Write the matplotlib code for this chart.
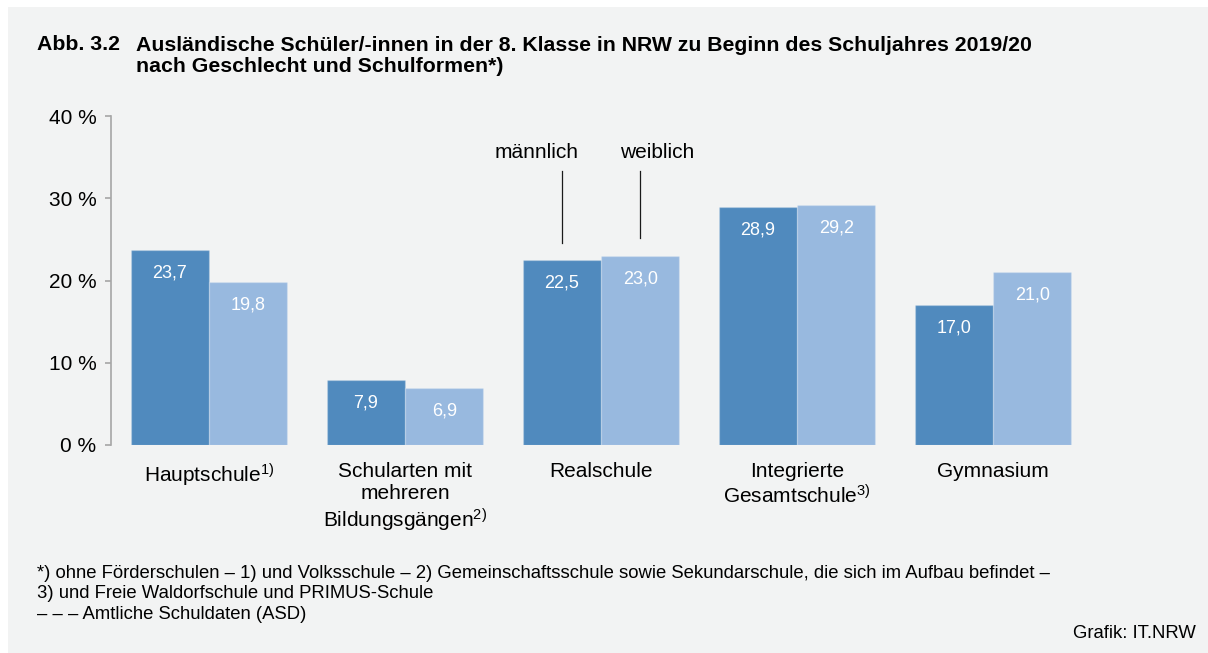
import matplotlib
matplotlib.use("Agg")
import matplotlib.pyplot as plt
from matplotlib.patches import Rectangle
import numpy as np

plt.rcParams['font.family'] = ['Liberation Sans', 'DejaVu Sans']
plt.rcParams['mathtext.fontset'] = 'custom'
plt.rcParams['mathtext.rm'] = 'Liberation Sans'
plt.rcParams['mathtext.default'] = 'regular'

# ---- data ----
categories = ['Hauptschule$^{1)}$',
              'Schularten mit\nmehreren\nBildungsgängen$^{2)}$',
              'Realschule',
              'Integrierte\nGesamtschule$^{3)}$',
              'Gymnasium']
maennlich = [23.7, 7.9, 22.5, 28.9, 17.0]
weiblich = [19.8, 6.9, 23.0, 29.2, 21.0]
yticks = [0, 10, 20, 30, 40]
ytick_labels = ['0 %', '10 %', '20 %', '30 %', '40 %']

title_num = 'Abb. 3.2'
title_text = ('Ausländische Schüler/-innen in der 8. Klasse in NRW zu Beginn des Schuljahres 2019/20\n'
              'nach Geschlecht und Schulformen*)')
footnote = ('*) ohne Förderschulen – 1) und Volksschule – 2) Gemeinschaftsschule sowie Sekundarschule, die sich im Aufbau befindet –\n'
            '3) und Freie Waldorfschule und PRIMUS-Schule\n'
            '– – – Amtliche Schuldaten (ASD)')
credit = 'Grafik: IT.NRW'

c_m = '#508abe'
c_w = '#98b9df'
bg = '#f2f3f3'

W, H = 1208, 653
fig = plt.figure(figsize=(W / 100, H / 100), dpi=100)
fig.patch.set_facecolor('white')
fig.patches.append(Rectangle((8 / W, 0), 1 - 8 / W, 1 - 7 / H, transform=fig.transFigure,
                             facecolor=bg, edgecolor='none', zorder=-10))

ax = fig.add_axes([111 / W, 1 - 445 / H, 980 / W, 329 / H])
ax.set_facecolor('none')

x = np.arange(len(categories))
bw = 0.4
ax.bar(x - bw / 2, maennlich, bw, color=c_m, edgecolor=(1, 1, 1, 0.2), linewidth=1.0)
ax.bar(x + bw / 2, weiblich, bw, color=c_w, edgecolor=(1, 1, 1, 0.2), linewidth=1.0)

ax.set_xlim(-0.5, len(categories) - 0.5)
ax.set_ylim(0, 40)
ax.set_yticks(yticks)
ax.set_yticklabels(ytick_labels, fontsize=15)
ax.set_xticks(x)
ax.set_xticklabels(categories, fontsize=15, linespacing=1.2, va='top')
ax.tick_params(axis='x', length=0, pad=12)
ax.tick_params(axis='y', length=4.5, width=1.2, color='#a6a6a6', pad=6)
for s in ['top', 'right', 'bottom']:
    ax.spines[s].set_visible(False)
ax.spines['left'].set_color('#a6a6a6')
ax.spines['left'].set_linewidth(1.2)

def fmt(v):
    return f'{v:.1f}'.replace('.', ',')

for xi, v in zip(x - bw / 2, maennlich):
    ax.annotate(fmt(v), (xi, v), xytext=(0, -16.5), textcoords='offset points',
                ha='center', va='center', color='white', fontsize=13)
for xi, v in zip(x + bw / 2, weiblich):
    ax.annotate(fmt(v), (xi, v), xytext=(0, -16.5), textcoords='offset points',
                ha='center', va='center', color='white', fontsize=13)

# legend-like annotation on Realschule
ri = 2
ax.plot([ri - bw / 2, ri - bw / 2], [maennlich[ri] + 2.1, 33.3], color='#1a1a1a', lw=0.9)
ax.plot([ri + bw / 2, ri + bw / 2], [weiblich[ri] + 2.2, 33.3], color='#1a1a1a', lw=0.9)
ax.text(ri - bw / 2 - 0.13, 35.6, 'männlich', ha='center', va='center', fontsize=15)
ax.text(ri + bw / 2 + 0.086, 35.6, 'weiblich', ha='center', va='center', fontsize=15)

# titles and notes
fig.text(37 / W, 1 - 44 / H, title_num, ha='left', va='center', fontsize=15.3, fontweight='bold')
fig.text(136 / W, 1 - 56 / H, title_text, ha='left', va='center', fontsize=15.3,
         fontweight='bold', linespacing=1.15)
fig.text(37 / W, 1 - 594 / H, footnote, ha='left', va='center', fontsize=13.3, linespacing=1.28)
fig.text(1196 / W, 1 - 634 / H, credit, ha='right', va='center', fontsize=13.3)

fig.savefig('out.png', dpi=100, facecolor=fig.get_facecolor())
